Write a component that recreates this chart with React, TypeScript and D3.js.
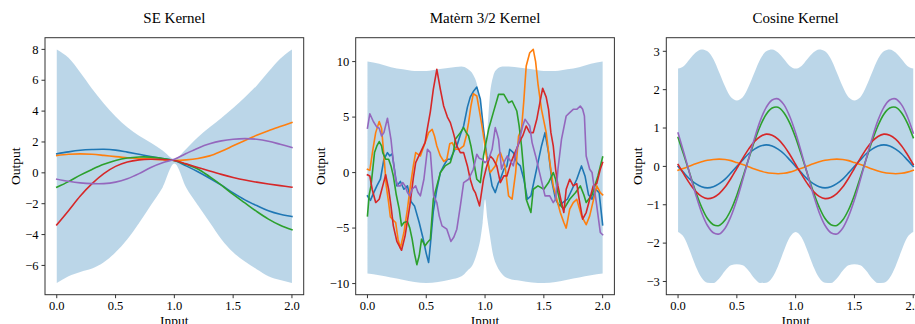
import React from "react";
import * as d3 from "d3";

const COLORS = ["#1f77b4", "#ff7f0e", "#2ca02c", "#d62728", "#9467bd"];
const X_TICKS = [0, 0.5, 1, 1.5, 2];

// ---------- SE kernel ----------
const SE_X = [0, 0.1, 0.2, 0.3, 0.4, 0.5, 0.6, 0.7, 0.8, 0.9, 1.0, 1.1, 1.2, 1.3, 1.4, 1.5, 1.6, 1.7, 1.8, 1.9, 2.0];
const SE_BLUE = [1.23, 1.36, 1.46, 1.51, 1.53, 1.47, 1.34, 1.2, 1.06, 0.93, 0.8, 0.45, 0.07, -0.35, -0.8, -1.3, -1.75, -2.12, -2.45, -2.68, -2.83];
const SE_ORANGE = [1.12, 1.2, 1.23, 1.2, 1.13, 1.05, 0.98, 0.93, 0.89, 0.85, 0.8, 0.84, 0.93, 1.1, 1.4, 1.75, 2.1, 2.43, 2.73, 3.0, 3.26];
const SE_GREEN = [-0.93, -0.57, -0.15, 0.22, 0.55, 0.8, 0.96, 1.03, 1.02, 0.93, 0.8, 0.55, 0.25, -0.25, -0.8, -1.4, -1.95, -2.5, -3.0, -3.4, -3.69];
const SE_RED = [-3.37, -2.45, -1.5, -0.7, -0.05, 0.42, 0.7, 0.84, 0.88, 0.86, 0.8, 0.58, 0.35, 0.12, -0.1, -0.3, -0.47, -0.6, -0.72, -0.83, -0.93];
const SE_PURPLE = [-0.41, -0.55, -0.65, -0.7, -0.7, -0.6, -0.38, -0.05, 0.35, 0.65, 0.88, 1.25, 1.6, 1.88, 2.07, 2.18, 2.22, 2.18, 2.05, 1.85, 1.64];
const SE_UPPER = [8.0, 7.45, 6.5, 5.45, 4.5, 3.65, 2.95, 2.4, 1.95, 1.45, 0.9, 1.55, 2.3, 2.95, 3.55, 4.2, 4.9, 5.65, 6.55, 7.4, 8.0];
const SE_LOWER = [-7.14, -6.7, -6.42, -6.2, -5.8, -5.15, -4.3, -3.25, -2.1, -0.95, 0.6, -0.95, -2.1, -3.2, -4.3, -5.15, -5.75, -6.25, -6.7, -6.95, -7.14];
const SE_Y_TICKS = [-6, -4, -2, 0, 2, 4, 6, 8];

// ---------- Matern 3/2 kernel ----------
const MAT_BAND_X = [0, 0.1, 0.2, 0.3, 0.4, 0.5, 0.6, 0.7, 0.8, 0.85, 0.9, 0.93, 0.96, 0.98, 1.0, 1.02, 1.04, 1.07, 1.1, 1.15, 1.2, 1.3, 1.4, 1.5, 1.6, 1.7, 1.8, 1.9, 2.0];
const MAT_UPPER = [10.0, 9.8, 9.5, 9.3, 9.15, 9.15, 9.3, 9.45, 9.55, 9.35, 8.8, 8.0, 6.2, 3.8, 0.4, 3.8, 6.8, 8.7, 9.3, 9.55, 9.55, 9.45, 9.3, 9.15, 9.15, 9.3, 9.5, 9.8, 10.0];
const MAT_LOWER = [-9.1, -9.25, -9.45, -9.65, -9.85, -9.95, -9.85, -9.65, -9.35, -8.85, -8.2, -7.3, -6.0, -4.5, -2.4, -4.2, -5.6, -7.5, -8.4, -9.2, -9.55, -9.75, -9.9, -9.95, -9.85, -9.65, -9.45, -9.25, -9.1];
const MAT_BLUE: [number, number][] = [[0,-2.1],[0.025,-2.5],[0.05,-1.9],[0.08,-1.2],[0.11,-0.6],[0.14,1.2],[0.17,1.8],[0.19,1.5],[0.21,1.7],[0.25,-1.2],[0.28,-0.8],[0.31,-1.5],[0.34,-1.2],[0.37,-2.6],[0.4,-3.0],[0.44,-4.5],[0.47,-5.8],[0.5,-7.3],[0.52,-8.1],[0.535,-6.5],[0.56,-3.5],[0.59,-1.5],[0.62,0.0],[0.648,0.6],[0.68,1.2],[0.705,1.2],[0.73,1.8],[0.76,2.4],[0.79,3.4],[0.818,4.2],[0.85,5.9],[0.874,6.8],[0.9,7.3],[0.93,7.7],[0.96,6.6],[0.987,3.9],[1.015,1.5],[1.04,0.0],[1.06,-1.2],[1.087,-1.8],[1.11,-1.0],[1.13,-0.6],[1.16,0.3],[1.186,0.6],[1.21,2.1],[1.24,1.8],[1.27,0.9],[1.3,0.6],[1.33,-0.6],[1.36,-2.4],[1.39,-2.1],[1.42,-0.6],[1.45,0.9],[1.48,2.4],[1.51,3.6],[1.54,1.8],[1.57,-0.9],[1.6,-2.4],[1.63,-3.0],[1.66,-2.7],[1.7,-2.4],[1.74,-1.5],[1.78,-0.6],[1.82,0.6],[1.85,-0.3],[1.88,-2.0],[1.91,-2.4],[1.94,-1.5],[1.97,-1.8],[2.0,-4.7]];
const MAT_ORANGE: [number, number][] = [[0,0.3],[0.02,0.2],[0.045,2.0],[0.07,3.6],[0.1,4.6],[0.12,4.0],[0.14,1.5],[0.16,-1.2],[0.18,-2.7],[0.195,-4.0],[0.22,-4.3],[0.24,-4.5],[0.26,-6.0],[0.28,-6.8],[0.31,-5.4],[0.34,-3.3],[0.365,-1.2],[0.39,0.6],[0.41,1.8],[0.45,1.5],[0.48,2.4],[0.52,3.6],[0.55,3.9],[0.57,3.3],[0.59,2.4],[0.62,1.5],[0.65,1.0],[0.675,1.2],[0.7,2.6],[0.72,2.7],[0.75,2.1],[0.78,2.1],[0.818,2.4],[0.84,3.3],[0.86,4.5],[0.88,6.0],[0.9,7.1],[0.93,6.9],[0.95,5.7],[0.974,4.2],[1.0,2.4],[1.015,1.2],[1.044,0.0],[1.065,0.3],[1.087,0.6],[1.11,1.5],[1.13,1.8],[1.15,1.2],[1.17,0.6],[1.2,-2.1],[1.23,-2.4],[1.26,0.0],[1.285,3.3],[1.31,3.9],[1.33,6.5],[1.35,9.6],[1.38,10.8],[1.41,11.1],[1.43,10.0],[1.45,8.0],[1.48,5.7],[1.52,3.6],[1.55,1.0],[1.58,-1.2],[1.61,-2.4],[1.64,-3.6],[1.67,-4.5],[1.69,-5.0],[1.72,-3.3],[1.75,-2.7],[1.78,-2.4],[1.82,-3.9],[1.86,-4.7],[1.89,-3.9],[1.91,-3.0],[1.95,-1.2],[1.98,-1.8],[2.0,-2.0]];
const MAT_GREEN: [number, number][] = [[0,-3.9],[0.015,-2.0],[0.03,-1.2],[0.06,1.8],[0.08,2.4],[0.1,2.8],[0.12,2.4],[0.13,1.8],[0.155,1.2],[0.18,1.2],[0.2,0.6],[0.22,-0.3],[0.245,-2.0],[0.27,-3.3],[0.29,-4.8],[0.31,-4.5],[0.34,-4.4],[0.36,-5.0],[0.38,-6.0],[0.4,-7.3],[0.42,-8.3],[0.44,-7.5],[0.46,-6.0],[0.49,-6.6],[0.51,-6.3],[0.535,-6.0],[0.56,-2.4],[0.59,-1.2],[0.62,0.0],[0.66,0.6],[0.705,0.9],[0.73,1.8],[0.747,3.0],[0.79,3.6],[0.818,4.05],[0.84,3.6],[0.86,3.3],[0.88,2.4],[0.9,1.2],[0.93,-0.6],[0.96,-0.9],[0.987,1.5],[1.03,3.9],[1.07,5.4],[1.1,6.5],[1.115,7.05],[1.16,7.05],[1.2,6.3],[1.23,6.45],[1.27,5.55],[1.29,4.2],[1.31,2.4],[1.33,0.0],[1.35,-2.4],[1.37,-3.0],[1.39,-3.6],[1.41,-1.5],[1.45,-1.2],[1.5,-1.5],[1.54,-0.9],[1.58,0.0],[1.6,-0.6],[1.62,-1.8],[1.645,-3.0],[1.67,-3.3],[1.72,-2.4],[1.77,-1.8],[1.81,-1.2],[1.84,-2.0],[1.86,-2.7],[1.91,-2.0],[1.96,-0.3],[2.0,1.4]];
const MAT_RED: [number, number][] = [[0,-0.2],[0.02,-0.3],[0.04,-1.5],[0.07,-2.7],[0.1,-2.4],[0.13,-1.2],[0.155,-0.2],[0.18,-1.5],[0.2,-3.0],[0.22,-4.8],[0.25,-6.2],[0.27,-6.6],[0.29,-7.0],[0.32,-5.7],[0.36,-3.0],[0.39,-0.5],[0.41,0.9],[0.45,1.8],[0.49,2.7],[0.51,4.0],[0.535,5.5],[0.56,7.5],[0.59,9.3],[0.62,7.5],[0.648,6.0],[0.68,5.0],[0.705,4.5],[0.73,3.6],[0.76,2.4],[0.79,1.8],[0.818,1.8],[0.85,0.6],[0.874,-0.6],[0.9,-1.5],[0.917,-1.8],[0.953,-3.0],[0.987,-0.6],[1.015,0.6],[1.044,1.5],[1.07,1.2],[1.1,0.6],[1.13,-0.9],[1.16,-0.3],[1.186,-0.3],[1.22,0.9],[1.255,1.8],[1.29,2.7],[1.32,3.3],[1.35,4.2],[1.38,3.6],[1.41,3.6],[1.44,4.8],[1.47,6.5],[1.49,7.6],[1.52,6.8],[1.54,5.7],[1.56,3.6],[1.58,2.4],[1.6,0.3],[1.62,-1.2],[1.65,-2.7],[1.67,-3.6],[1.69,-1.5],[1.72,-0.6],[1.75,-1.2],[1.78,-1.0],[1.8,-2.4],[1.83,-4.2],[1.86,-3.6],[1.89,-2.4],[1.92,-1.2],[1.95,-1.0],[1.98,0.3],[2.0,0.9]];
const MAT_PURPLE: [number, number][] = [[0,4.0],[0.02,5.3],[0.05,4.6],[0.08,4.1],[0.1,4.0],[0.12,3.3],[0.14,3.6],[0.17,4.9],[0.2,3.0],[0.22,1.0],[0.24,-0.6],[0.26,-1.2],[0.28,-1.2],[0.3,-0.9],[0.32,-1.2],[0.34,-1.8],[0.36,-2.1],[0.38,-1.5],[0.41,-1.2],[0.43,-1.8],[0.45,-2.1],[0.48,-0.6],[0.51,2.1],[0.535,1.8],[0.563,-2.1],[0.59,-2.7],[0.61,-3.9],[0.634,-4.8],[0.675,-5.1],[0.71,-6.2],[0.735,-5.8],[0.76,-5.1],[0.79,-3.0],[0.818,-0.9],[0.86,-0.6],[0.9,0.3],[0.93,1.65],[0.95,1.3],[0.974,1.2],[1.0,0.9],[1.03,1.2],[1.06,2.1],[1.087,4.05],[1.1,3.6],[1.115,3.0],[1.14,0.3],[1.165,1.0],[1.19,1.5],[1.24,0.6],[1.27,2.1],[1.3,3.3],[1.32,4.2],[1.34,4.8],[1.36,4.5],[1.38,4.2],[1.4,2.7],[1.43,1.5],[1.47,-0.3],[1.51,-2.1],[1.55,-2.1],[1.58,-2.7],[1.6,-2.4],[1.62,0.3],[1.65,3.0],[1.69,5.1],[1.72,5.4],[1.75,5.7],[1.78,5.7],[1.81,6.0],[1.83,5.7],[1.845,5.1],[1.86,1.5],[1.89,0.3],[1.91,0.0],[1.95,-3.0],[1.98,-5.4],[2.0,-5.6]];
const MAT_Y_TICKS = [-10, -5, 0, 5, 10];

// ---------- Cosine kernel ----------
const COS_X = [0, 0.05, 0.1, 0.15, 0.2, 0.25, 0.3, 0.35, 0.4, 0.45, 0.5, 0.55, 0.6, 0.65, 0.7, 0.75, 0.8, 0.85, 0.9, 0.95, 1.0, 1.05, 1.1, 1.15, 1.2, 1.25, 1.3, 1.35, 1.4, 1.45, 1.5, 1.55, 1.6, 1.65, 1.7, 1.75, 1.8, 1.85, 1.9, 1.95, 2.0];
const COS_BLUE = [0, -0.17, -0.33, -0.45, -0.53, -0.56, -0.53, -0.45, -0.33, -0.17, 0, 0.17, 0.33, 0.45, 0.53, 0.56, 0.53, 0.45, 0.33, 0.17, 0, -0.17, -0.33, -0.45, -0.53, -0.56, -0.53, -0.45, -0.33, -0.17, 0, 0.17, 0.33, 0.45, 0.53, 0.56, 0.53, 0.45, 0.33, 0.17, 0];
const COS_ORANGE = [-0.1, -0.05, 0.01, 0.07, 0.12, 0.16, 0.18, 0.19, 0.18, 0.15, 0.1, 0.05, -0.01, -0.07, -0.12, -0.16, -0.18, -0.19, -0.18, -0.15, -0.1, -0.05, 0.01, 0.07, 0.12, 0.16, 0.18, 0.19, 0.18, 0.15, 0.1, 0.05, -0.01, -0.07, -0.12, -0.16, -0.18, -0.19, -0.18, -0.15, -0.1];
const COS_GREEN = [0.75, 0.29, -0.19, -0.66, -1.06, -1.36, -1.52, -1.54, -1.4, -1.13, -0.75, -0.29, 0.19, 0.66, 1.06, 1.36, 1.52, 1.54, 1.4, 1.13, 0.75, 0.29, -0.19, -0.66, -1.06, -1.36, -1.52, -1.54, -1.4, -1.13, -0.75, -0.29, 0.19, 0.66, 1.06, 1.36, 1.52, 1.54, 1.4, 1.13, 0.75];
const COS_RED = [0.05, -0.21, -0.45, -0.65, -0.78, -0.84, -0.81, -0.71, -0.54, -0.31, -0.05, 0.21, 0.45, 0.65, 0.78, 0.84, 0.81, 0.71, 0.54, 0.31, 0.05, -0.21, -0.45, -0.65, -0.78, -0.84, -0.81, -0.71, -0.54, -0.31, -0.05, 0.21, 0.45, 0.65, 0.78, 0.84, 0.81, 0.71, 0.54, 0.31, 0.05];
const COS_PURPLE = [0.87, 0.35, -0.2, -0.73, -1.2, -1.54, -1.73, -1.76, -1.61, -1.3, -0.87, -0.35, 0.2, 0.73, 1.2, 1.54, 1.73, 1.76, 1.61, 1.3, 0.87, 0.35, -0.2, -0.73, -1.2, -1.54, -1.73, -1.76, -1.61, -1.3, -0.87, -0.35, 0.2, 0.73, 1.2, 1.54, 1.73, 1.76, 1.61, 1.3, 0.87];
const COS_UPPER = [2.55, 2.62, 2.8, 2.97, 3.05, 3.0, 2.8, 2.45, 2.08, 1.8, 1.72, 1.8, 2.08, 2.45, 2.8, 3.0, 3.05, 2.97, 2.8, 2.62, 2.55, 2.62, 2.8, 2.97, 3.05, 3.0, 2.8, 2.45, 2.08, 1.8, 1.72, 1.8, 2.08, 2.45, 2.8, 3.0, 3.05, 2.97, 2.8, 2.62, 2.55];
const COS_LOWER = [-1.71, -1.85, -2.2, -2.6, -2.9, -3.03, -3.04, -2.92, -2.72, -2.58, -2.55, -2.58, -2.72, -2.92, -3.04, -3.03, -2.9, -2.6, -2.2, -1.85, -1.71, -1.85, -2.2, -2.6, -2.9, -3.03, -3.04, -2.92, -2.72, -2.58, -2.55, -2.58, -2.72, -2.92, -3.04, -3.03, -2.9, -2.6, -2.2, -1.85, -1.71];
const COS_Y_TICKS = [-3, -2, -1, 0, 1, 2, 3];

const TITLES = ["SE Kernel", "Matèrn 3/2 Kernel", "Cosine Kernel"];

const zip = (xs: number[], ys: number[]): [number, number][] => xs.map((x, i) => [x, ys[i]]);

type PanelSpec = {
  title: string;
  bandX: number[];
  upper: number[];
  lower: number[];
  series: [number, number][][];
  yTicks: number[];
  curve: any;
};

const PANELS: PanelSpec[] = [
  { title: TITLES[0], bandX: SE_X, upper: SE_UPPER, lower: SE_LOWER, series: [SE_BLUE, SE_ORANGE, SE_GREEN, SE_RED, SE_PURPLE].map((s) => zip(SE_X, s)), yTicks: SE_Y_TICKS, curve: d3.curveCatmullRom },
  { title: TITLES[1], bandX: MAT_BAND_X, upper: MAT_UPPER, lower: MAT_LOWER, series: [MAT_BLUE, MAT_ORANGE, MAT_GREEN, MAT_RED, MAT_PURPLE], yTicks: MAT_Y_TICKS, curve: d3.curveLinear },
  { title: TITLES[2], bandX: COS_X, upper: COS_UPPER, lower: COS_LOWER, series: [COS_BLUE, COS_ORANGE, COS_GREEN, COS_RED, COS_PURPLE].map((s) => zip(COS_X, s)), yTicks: COS_Y_TICKS, curve: d3.curveCatmullRom },
];

const W = 915;
const H = 324;
const PANEL_LEFTS = [45, 355.7, 666.3];
const PANEL_W = 258.7;
const TOP = 37.7;
const BOTTOM = 294.7;
const TICK_FS = 12.5;
const LABEL_FS = 13.5;
const TITLE_FS = 15;
const FONT = "'Liberation Serif', 'Times New Roman', Times, serif";
const AXIS_COLOR = "#333";

const fmtX = d3.format(".1f");
const fmtY = d3.format("d");

function labelWidth(s: string) {
  let w = 0;
  for (const c of s) w += c === "−" ? 0.564 : c === "." ? 0.25 : 0.5;
  return w * TICK_FS;
}

function Panel({ spec, left }: { spec: PanelSpec; left: number }) {
  const allY = [...spec.upper, ...spec.lower, ...spec.series.flatMap((s) => s.map((p) => p[1]))];
  const [ymin, ymax] = d3.extent(allY) as [number, number];
  const pad = (ymax - ymin) * 0.05;
  const x = d3.scaleLinear().domain([-0.1, 2.1]).range([left, left + PANEL_W]);
  const y = d3.scaleLinear().domain([ymin - pad, ymax + pad]).range([BOTTOM, TOP]);

  const area = d3
    .area<number>()
    .x((_, i) => x(spec.bandX[i]))
    .y0((_, i) => y(spec.lower[i]))
    .y1((_, i) => y(spec.upper[i]))
    .curve(d3.curveMonotoneX);
  const line = d3
    .line<[number, number]>()
    .x((d) => x(d[0]))
    .y((d) => y(d[1]))
    .curve(spec.curve);

  const maxW = d3.max(spec.yTicks.map((t) => labelWidth(fmtY(t)))) as number;
  const cx = left + PANEL_W / 2;

  return (
    <g>
      <text x={cx} y={22.5} textAnchor="middle" fontSize={TITLE_FS} fill="#000">
        {spec.title}
      </text>
      <path d={area(spec.bandX) || ""} fill="#1f77b4" fillOpacity={0.3} stroke="none" />
      {spec.series.map((s, i) => (
        <path key={i} d={line(s) || ""} fill="none" stroke={COLORS[i]} strokeWidth={1.6} strokeLinejoin="round" strokeLinecap="square" />
      ))}
      <rect x={left} y={TOP} width={PANEL_W} height={BOTTOM - TOP} fill="none" stroke={AXIS_COLOR} strokeWidth={1} />
      {X_TICKS.map((t) => (
        <g key={t}>
          <line x1={x(t)} x2={x(t)} y1={BOTTOM} y2={BOTTOM + 3.5} stroke={AXIS_COLOR} strokeWidth={1} />
          <text x={x(t)} y={BOTTOM + 15.5} textAnchor="middle" fontSize={TICK_FS} fill="#000">
            {fmtX(t)}
          </text>
        </g>
      ))}
      {spec.yTicks.map((t) => (
        <g key={t}>
          <line x1={left - 3.5} x2={left} y1={y(t)} y2={y(t)} stroke={AXIS_COLOR} strokeWidth={1} />
          <text x={left - 6.5} y={y(t)} dy="0.34em" textAnchor="end" fontSize={TICK_FS} fill="#000">
            {fmtY(t)}
          </text>
        </g>
      ))}
      <text
        transform={`translate(${left - 6.5 - maxW - 5},${(TOP + BOTTOM) / 2}) rotate(-90)`}
        textAnchor="middle"
        fontSize={LABEL_FS}
        fill="#000"
      >
        Output
      </text>
      <text x={cx} y={H + 0.5} textAnchor="middle" fontSize={LABEL_FS} fill="#000">
        Input
      </text>
    </g>
  );
}

export default function App() {
  return (
    <svg
      width={W}
      height={H}
      viewBox={`0 0 ${W} ${H}`}
      style={{ position: "fixed", left: 0, top: 0, background: "#fff", overflow: "hidden" }}
      fontFamily={FONT}
    >
      <rect x={0} y={0} width={W} height={H} fill="#fff" />
      {PANELS.map((p, i) => (
        <Panel key={i} spec={p} left={PANEL_LEFTS[i]} />
      ))}
    </svg>
  );
}
